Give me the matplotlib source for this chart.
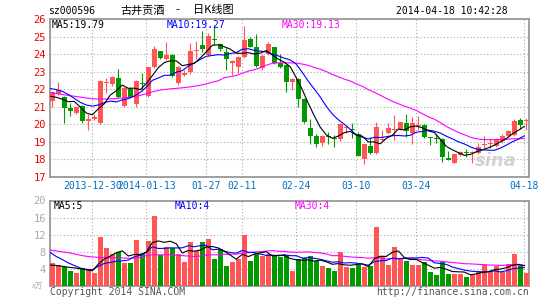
import matplotlib
matplotlib.use("Agg")
import matplotlib.pyplot as plt
import numpy as np
import pandas as pd

# ---------------- data ----------------
opens = [21.35, 21.73, 21.54, 20.95, 20.66, 21.05, 20.17, 20.31, 20.06, 22.36,
         22.28, 22.62, 21.06, 22.00, 21.16, 22.32, 21.60, 23.28, 24.18, 23.72,
         23.95, 22.33, 22.80, 22.97, 24.20, 24.50, 23.95, 24.82, 24.58, 24.14,
         23.48, 23.28, 23.86, 24.84, 24.38, 23.19, 23.99, 24.39, 23.47, 23.38,
         22.39, 22.56, 21.42, 19.77, 19.34, 18.92, 19.32, 19.22, 19.15, 19.78,
         19.75, 19.45, 18.01, 18.77, 18.39, 19.10, 19.52, 19.68, 19.73, 20.07,
         19.50, 19.90, 19.95, 19.26, 19.20, 19.16, 18.10, 17.82, 18.25, 18.42,
         18.35, 18.35, 18.80, 18.90, 18.78, 19.07, 19.36, 19.40, 20.25, 20.20]
highs = [21.92, 22.43, 21.60, 21.23, 21.00, 21.10, 20.57, 20.60, 22.50, 22.62,
         22.75, 23.15, 22.10, 22.15, 22.50, 22.90, 23.28, 24.46, 24.20, 24.71,
         24.00, 23.35, 23.10, 24.65, 24.75, 25.32, 25.22, 25.66, 24.65, 24.33,
         23.68, 23.90, 25.62, 25.00, 25.15, 24.00, 24.70, 24.42, 24.00, 23.42,
         22.65, 22.62, 21.48, 20.30, 19.45, 19.40, 19.55, 19.40, 20.10, 19.95,
         20.05, 19.55, 18.90, 19.30, 20.13, 19.70, 20.10, 20.55, 20.15, 20.60,
         20.40, 20.50, 20.00, 19.30, 19.45, 19.20, 18.50, 18.32, 18.50, 18.60,
         18.50, 18.95, 19.34, 19.20, 19.20, 19.45, 19.70, 20.28, 20.35, 20.34]
lows = [20.97, 21.65, 20.10, 20.50, 20.57, 20.10, 19.68, 20.25, 20.00, 21.77,
        22.20, 21.50, 20.97, 21.50, 20.96, 21.90, 21.55, 23.20, 23.75, 23.66,
        22.68, 22.25, 22.75, 22.86, 23.75, 24.14, 23.90, 24.52, 24.20, 23.10,
        22.80, 22.90, 23.80, 24.38, 23.25, 23.10, 23.95, 23.45, 23.20, 21.86,
        21.95, 21.01, 20.10, 18.88, 18.73, 18.78, 18.90, 18.70, 19.05, 19.50,
        19.20, 18.20, 17.72, 18.30, 18.30, 19.05, 19.45, 19.10, 19.65, 19.30,
        18.90, 19.70, 19.20, 18.85, 18.95, 17.87, 17.95, 17.80, 18.20, 18.15,
        17.82, 18.30, 18.63, 18.63, 18.70, 18.95, 19.30, 19.35, 19.75, 19.69]
closes = [21.86, 21.96, 20.95, 20.78, 20.97, 20.21, 20.32, 20.44, 22.47, 22.42,
          22.70, 21.54, 22.05, 21.54, 22.47, 22.28, 23.28, 24.30, 23.80, 23.95,
          22.75, 23.28, 22.92, 24.15, 24.26, 24.30, 25.04, 24.78, 24.27, 23.70,
          23.63, 23.86, 24.80, 24.42, 23.32, 23.89, 24.58, 23.51, 23.28, 22.43,
          22.58, 21.44, 20.15, 19.36, 18.86, 19.34, 19.28, 19.18, 20.00, 19.84,
          19.70, 18.22, 18.88, 18.35, 19.83, 19.18, 19.77, 19.75, 20.11, 19.60,
          20.07, 19.98, 19.26, 19.22, 19.15, 18.12, 17.98, 18.29, 18.40, 18.38,
          18.38, 18.73, 18.85, 18.95, 19.15, 19.34, 19.64, 20.21, 19.96, 20.25]
volumes = [5.3, 5.0, 4.4, 3.5, 3.0, 4.2, 4.0, 3.0, 11.35, 9.0,
           7.6, 7.9, 5.3, 5.3, 10.8, 7.6, 10.6, 16.4, 7.3, 9.2,
           8.9, 7.6, 5.6, 10.3, 8.3, 10.3, 11.1, 6.2, 8.6, 4.6,
           5.6, 6.3, 12.0, 5.9, 7.5, 7.1, 7.6, 7.1, 6.7, 7.3,
           3.4, 6.2, 6.5, 7.1, 5.9, 4.6, 4.2, 3.6, 7.9, 4.4,
           4.2, 5.0, 4.4, 4.6, 13.7, 7.1, 4.8, 9.2, 6.3, 5.9,
           4.8, 4.8, 5.6, 3.2, 2.5, 5.6, 2.7, 2.9, 2.9, 2.2,
           2.5, 3.6, 4.8, 3.6, 4.6, 3.2, 5.2, 7.6, 4.8, 3.0]

# moving-average values at the start of the window (need data before it)
ma5_head = [21.60, 21.54, 21.43, 21.29]
ma10_head = [22.04, 21.98, 21.88, 21.70, 21.48, 21.25, 21.10, 21.04, 21.10]
ma30_head = [21.80, 21.76, 21.70, 21.65, 21.60, 21.55, 21.50, 21.46, 21.44, 21.44,
             21.45, 21.47, 21.50, 21.53, 21.58, 21.65, 21.75, 21.85, 21.93, 21.98,
             22.02, 22.05, 22.08, 22.12, 22.17, 22.23, 22.30, 22.40, 22.48]
vma5_head = [4.9, 4.8, 4.6, 4.4]
vma10_head = [7.8, 6.9, 6.2, 5.4, 4.8, 4.2, 3.9, 3.8, 4.6]
vma30_head = [8.4, 8.2, 8.0, 7.8, 7.5, 7.2, 6.95, 6.8, 6.7, 6.65,
              6.6, 6.6, 6.55, 6.5, 6.5, 6.7, 7.1, 7.3, 7.3, 7.3,
              7.3, 7.2, 7.1, 7.0, 6.9, 7.0, 7.2, 7.3, 7.3]

date_idx = [7, 16, 26, 32, 41, 51, 61, 79]
date_labels = ["2013-12-30", "2014-01-13", "01-27", "02-11", "02-24", "03-10", "03-24", "04-18"]
price_ticks = [17, 18, 19, 20, 21, 22, 23, 24, 25, 26]
vol_ticks = [4, 8, 12, 16, 20]

title_code = "sz000596"
title_parts = ["古井贡酒", "-", "日K线图"]
timestamp = "2014-04-18 10:42:28"
price_ma_labels = ["MA5:19.79", "MA10:19.27", "MA30:19.13"]
vol_ma_labels = ["MA5:5", "MA10:4", "MA30:4"]

# ---------------- helpers ----------------
def ma_with_head(values, n, head):
    s = pd.Series(values, dtype=float).rolling(n).mean().to_numpy()
    s[:len(head)] = head
    return s

W, H = 545, 300
fig = plt.figure(figsize=(W / 100, H / 100), dpi=100)
fig.patch.set_facecolor("white")

def px_axes(l, t, r, b):
    return fig.add_axes([l / W, 1 - b / H, (r - l) / W, (b - t) / H])

def ftext(x, y, s, **kw):
    fig.text(x / W, 1 - y / H, s, **kw)

RED = "#ff5555"
GREEN = "#009900"
GRID = "#aaaaaa"
SPINE = "#999999"
MONO = "DejaVu Sans Mono"
CJK = ["Noto Sans CJK SC", "DejaVu Sans"]

n = len(closes)
x = np.arange(n)
O = np.array(opens); C = np.array(closes); Hh = np.array(highs); L = np.array(lows)
up = C >= O
cols = np.where(up, RED, GREEN)

XL = (-0.38, 79.45)
OFF = 0.33                      # the chart draws grid/MA lines 2px left of the candles
grid_x = [i - OFF for i in date_idx]
xl = x - OFF

def style_axes(ax):
    for sp in ax.spines.values():
        sp.set_color(SPINE)
        sp.set_linewidth(1.3)
    ax.set_xlim(*XL)
    ax.tick_params(length=0)
    for gx in grid_x:
        ax.axvline(gx, color=GRID, lw=0.8, ls=(0, (1, 2)), zorder=0)

# ---------------- price panel ----------------
axp = px_axes(50, 19, 529, 177)
style_axes(axp)
axp.set_ylim(17, 26)
for yv in price_ticks[1:-1]:
    axp.axhline(yv, color=GRID, lw=0.8, ls=(0, (1, 2)), zorder=0)
axp.set_yticks(price_ticks)
axp.set_yticklabels([str(t) for t in price_ticks], color="#ee0000",
                    fontsize=7.5, fontfamily=MONO)
axp.tick_params(axis="y", pad=3)
axp.set_xticks(grid_x)
axp.set_xticklabels(date_labels, color="#0070c0", fontsize=7, fontfamily=MONO)
axp.tick_params(axis="x", pad=3)

axp.vlines(x, L, Hh, colors=cols, lw=0.8, zorder=2)
body_h = np.maximum(np.abs(C - O), 0.06)
axp.bar(x, body_h, bottom=np.minimum(O, C), width=0.82, color=cols,
        linewidth=0, zorder=3)

ma5 = ma_with_head(closes, 5, ma5_head)
ma10 = ma_with_head(closes, 10, ma10_head)
ma30 = ma_with_head(closes, 30, ma30_head)
axp.plot(xl, ma30, color="#ff00ff", lw=0.8, zorder=4)
axp.plot(xl, ma10, color="#0000ff", lw=0.8, zorder=4)
axp.plot(xl, ma5, color="black", lw=0.8, zorder=5)

# faint sina watermark
axp.text(0.975, 0.1, "sina", transform=axp.transAxes, ha="right", va="center",
         fontsize=13, fontweight="bold", fontstyle="italic", color="#c8c8c8",
         alpha=0.8, zorder=1)

# ---------------- volume panel ----------------
axv = px_axes(50, 200.5, 529, 286)
style_axes(axv)
axv.set_ylim(0, 20)
for yv in vol_ticks[:-1]:
    axv.axhline(yv, color=GRID, lw=0.8, ls=(0, (1, 2)), zorder=0)
axv.set_yticks(vol_ticks)
axv.set_yticklabels([str(t) for t in vol_ticks], color="#aaaaaa",
                    fontsize=7.5, fontfamily=MONO)
axv.tick_params(axis="y", pad=3)
axv.set_xticks([])
axv.bar(x, volumes, width=0.82, color=cols, linewidth=0, zorder=3)
vma5 = ma_with_head(volumes, 5, vma5_head)
vma10 = ma_with_head(volumes, 10, vma10_head)
vma30 = ma_with_head(volumes, 30, vma30_head)
axv.plot(xl, vma30, color="#ff00ff", lw=0.8, zorder=4)
axv.plot(xl, vma10, color="#0000ff", lw=0.8, zorder=4)
axv.plot(xl, vma5, color="black", lw=0.8, zorder=5)

# ---------------- texts ----------------
ftext(48, 11, title_code, fontsize=7, fontfamily=MONO, va="center", ha="left")
ftext(120, 10.5, title_parts[0], fontsize=8, family=CJK, va="center", ha="left")
ftext(177.5, 10.5, title_parts[1], fontsize=8, family=CJK, va="center", ha="center")
ftext(193, 10.5, title_parts[2], fontsize=8, family=CJK, va="center", ha="left")
ftext(508, 11, timestamp, fontsize=7, fontfamily=MONO, va="center", ha="right")

ma_cols = ["black", "#0000ff", "#ff00ff"]
for xx, s, c in zip([52, 167, 282], price_ma_labels, ma_cols):
    ftext(xx, 24.5, s, fontsize=7, fontfamily=MONO, color=c, va="center", ha="left")
for xx, s, c in zip([54, 175, 295], vol_ma_labels, ma_cols):
    ftext(xx, 206, s, fontsize=7, fontfamily=MONO, color=c, va="center", ha="left")

ftext(43, 287, "x万", fontsize=5.5, family=CJK, color="#aaaaaa", va="center", ha="right")
ftext(50, 292, "Copyright 2014 SINA.COM", fontsize=7, fontfamily=MONO,
      color="#555555", va="center", ha="left")
ftext(529, 292, "http://finance.sina.com.cn", fontsize=7, fontfamily=MONO,
      color="#555555", va="center", ha="right")

fig.savefig("out.png", dpi=100)
